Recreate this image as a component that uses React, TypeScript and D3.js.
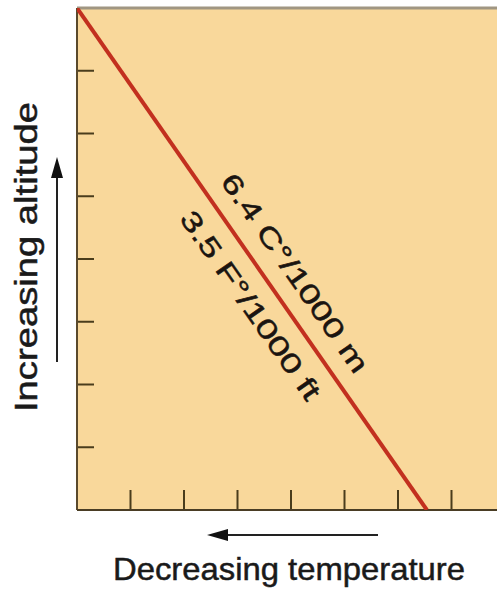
import React from "react";
import * as d3 from "d3";

// ---- data ----
const tempTicks = [1, 2, 3, 4, 5, 6, 7];
const altTicks = [1, 2, 3, 4, 5, 6, 7];
const lapseTemp = [0, 6.54];
const lapseAlt = [8, 0];
const upperLabel = "6.4 C°/1000 m";
const lowerLabel = "3.5 F°/1000 ft";
const xTitle = "Decreasing temperature";
const yTitle = "Increasing altitude";

const W = 497;
const H = 595;
const FONT = "'Liberation Sans', Arial, Helvetica, sans-serif";

export default function App() {
  const x = d3.scaleLinear().domain([0, 8]).range([77, 505]);
  const y = d3.scaleLinear().domain([0, 8]).range([510, 8]);

  const pts = lapseTemp.map((t, i) => [x(t), y(lapseAlt[i])] as [number, number]);
  const line = d3.line()(pts) as string;
  const [p0, p1] = pts;
  const dx = p1[0] - p0[0];
  const dy = p1[1] - p0[1];
  const len = Math.hypot(dx, dy);
  const ux = dx / len, uy = dy / len;
  const nx = uy, ny = -ux; // up-right normal
  const angle = (Math.atan2(dy, dx) * 180) / Math.PI;

  const at = (along: number, off: number) => [
    p0[0] + ux * along + nx * off,
    p0[1] + uy * along + ny * off,
  ];
  const up = at(224, 18);
  const lo = at(231, -37);

  const left = x(0);
  const bottom = y(0);
  const top = y(8);

  const textStyle = { stroke: "#1a1410", strokeWidth: 0.5 };

  return (
    <svg
      width={W}
      height={H}
      style={{ position: "absolute", left: 0, top: 0, background: "#fff" }}
    >
      <defs>
        <clipPath id="plot">
          <rect x={left} y={top} width={W - left} height={bottom - top} />
        </clipPath>
      </defs>
      <rect x={left} y={top} width={W - left} height={bottom - top} fill="#f9d89b" />
      {/* top border */}
      <line x1={left} x2={W} y1={top} y2={top} stroke="#a09682" strokeWidth={3} />
      {/* ticks */}
      {tempTicks.map((t) => (
        <line key={"xt" + t} x1={x(t)} x2={x(t)} y1={bottom} y2={bottom - 20} stroke="#4a3d1c" strokeWidth={2} />
      ))}
      {altTicks.map((a) => (
        <line key={"yt" + a} x1={left} x2={left + 17} y1={y(a)} y2={y(a)} stroke="#4a3d1c" strokeWidth={2} />
      ))}
      {/* axes */}
      <line x1={left} x2={left} y1={top} y2={bottom} stroke="#5a4a2c" strokeWidth={2} />
      <line x1={left} x2={W} y1={bottom} y2={bottom} stroke="#4a3d24" strokeWidth={2} />
      {/* lapse line */}
      <path d={line} stroke="#c2301f" strokeWidth={4} fill="none" clipPath="url(#plot)" />
      {/* line labels */}
      <text
        x={up[0]}
        y={up[1]}
        transform={`rotate(${angle} ${up[0]} ${up[1]})`}
        fontFamily={FONT}
        fontSize={27}
        fill="#1a1410"
        style={textStyle}
        textLength={236}
        lengthAdjust="spacingAndGlyphs"
      >
        {upperLabel}
      </text>
      <text
        x={lo[0]}
        y={lo[1]}
        transform={`rotate(${angle} ${lo[0]} ${lo[1]})`}
        fontFamily={FONT}
        fontSize={27}
        fill="#1a1410"
        style={textStyle}
        textLength={224}
        lengthAdjust="spacingAndGlyphs"
      >
        {lowerLabel}
      </text>
      {/* x arrow */}
      <line x1={378} x2={222} y1={535} y2={535} stroke="#222" strokeWidth={2} />
      <path d="M207,535 L228,529 L228,541 Z" fill="#111" />
      {/* y arrow */}
      <line x1={57} x2={57} y1={362} y2={172} stroke="#222" strokeWidth={2} />
      <path d="M57,157 L51,178 L63,178 Z" fill="#111" />
      {/* titles */}
      <text
        x={113}
        y={580}
        fontFamily={FONT}
        fontSize={32}
        fill="#1a1a1a"
        style={{ stroke: "#1a1a1a", strokeWidth: 0.5 }}
        textLength={352}
        lengthAdjust="spacingAndGlyphs"
      >
        {xTitle}
      </text>
      <text
        transform="translate(37,412) rotate(-90)"
        fontFamily={FONT}
        fontSize={32}
        fill="#1a1a1a"
        style={{ stroke: "#1a1a1a", strokeWidth: 0.5 }}
        textLength={310}
        lengthAdjust="spacingAndGlyphs"
      >
        {yTitle}
      </text>
    </svg>
  );
}
